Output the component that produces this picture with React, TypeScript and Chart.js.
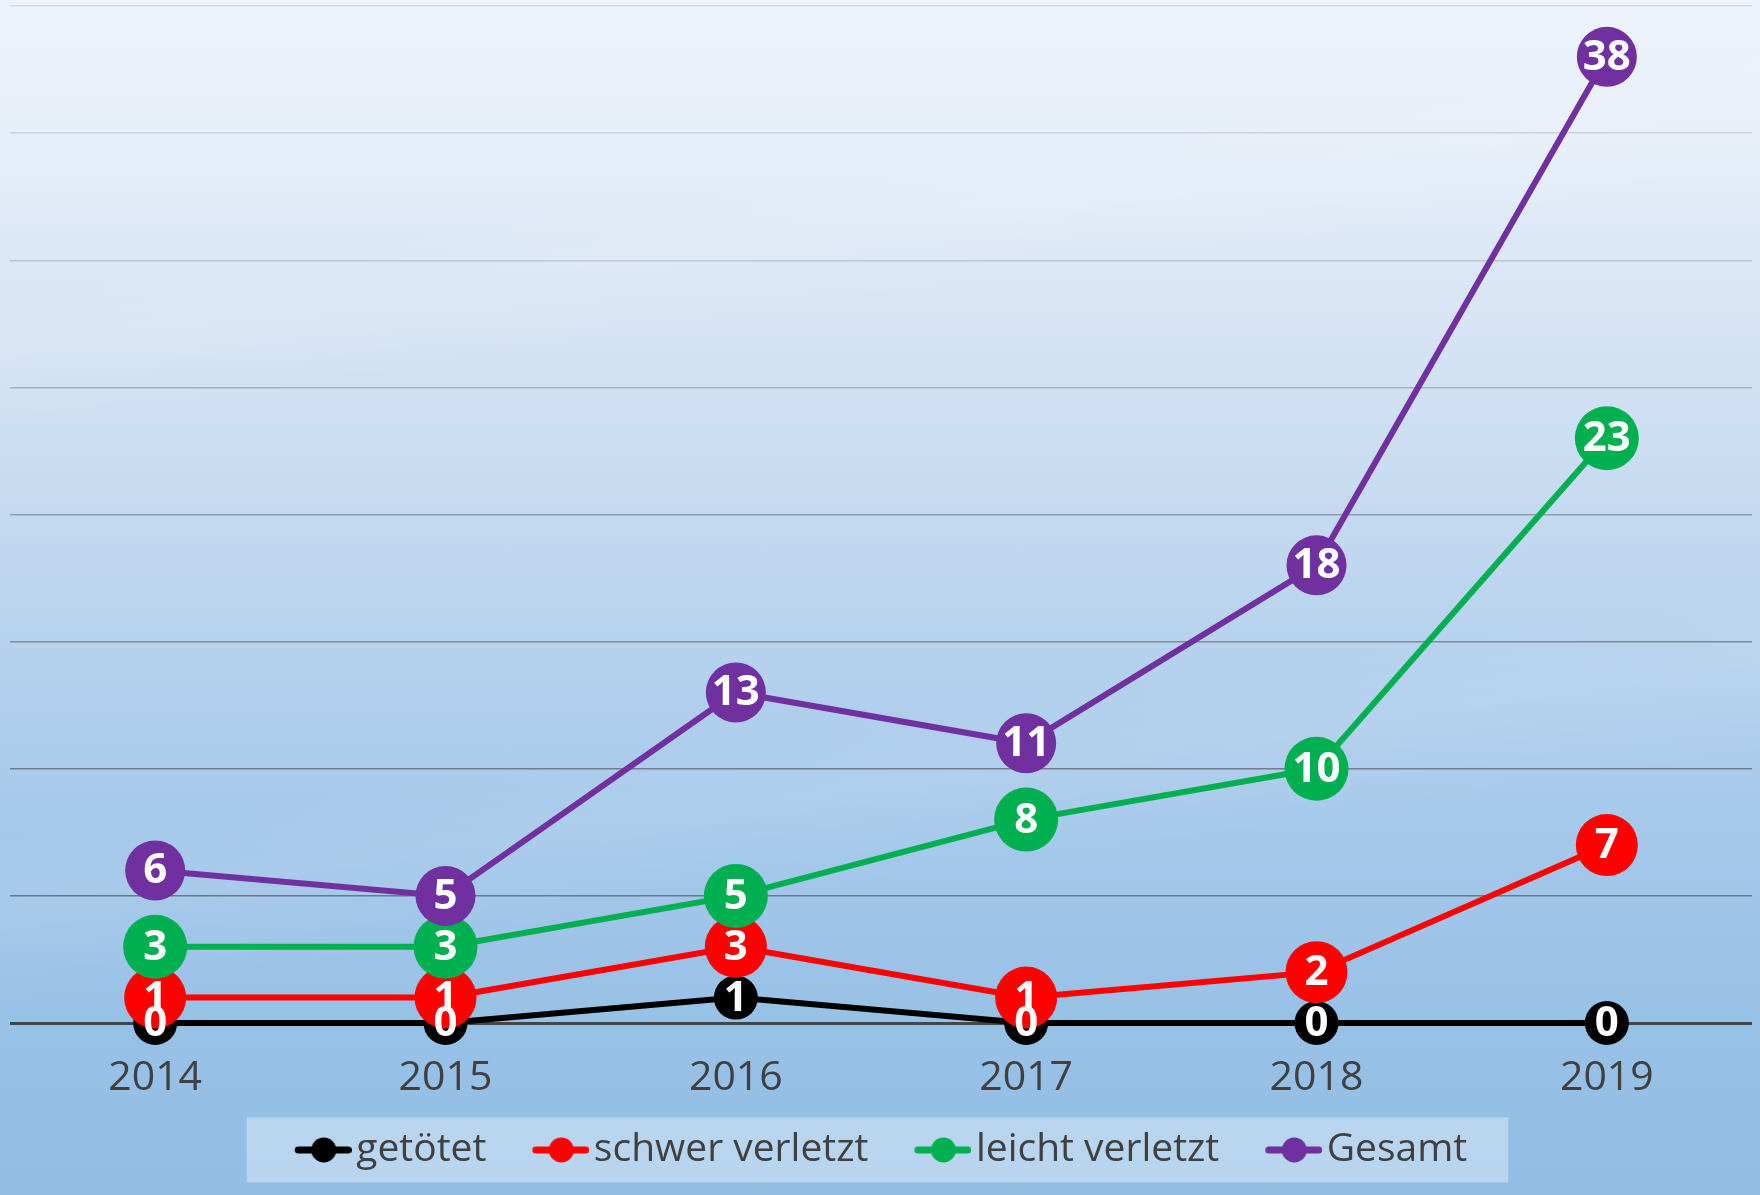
import React, { useEffect, useRef } from 'react';
import { Chart, registerables } from 'chart.js';

Chart.register(...registerables);

// ---- data ----
const years = ['2014', '2015', '2016', '2017', '2018', '2019'];
const getoetet = [0, 0, 1, 0, 0, 0];
const schwerVerletzt = [1, 1, 3, 1, 2, 7];
const leichtVerletzt = [3, 3, 5, 8, 10, 23];
const gesamt = [6, 5, 13, 11, 18, 38];
const seriesNames = ['getötet', 'schwer verletzt', 'leicht verletzt', 'Gesamt'];
const seriesColors = ['#000000', '#ff0000', '#00b050', '#7030a0'];
const pointRadii = [22, 31, 32, 30];
const yMin = 0;
const yMax = 40;
const yStep = 5;

const FONT = '"Open Sans", "Noto Sans", sans-serif';
const LEGEND_FONT = 39;

const gridColors: Record<number, string> = {
  40: '#d4d9e2',
  35: '#cbd2dc',
  30: '#bcc5d2',
  25: '#a4b0c0',
  20: '#8f9cae',
  15: '#7e8b9d',
  10: '#717e90',
  5: '#6b7888',
  0: '#454545',
};

function makeSymbol(color: string): HTMLCanvasElement {
  const c = document.createElement('canvas');
  c.width = 72;
  c.height = 30;
  const g = c.getContext('2d')!;
  g.strokeStyle = color;
  g.lineWidth = 7;
  g.lineCap = 'round';
  g.beginPath();
  g.moveTo(15 + 3.5, 15);
  g.lineTo(72 - 3.5, 15);
  g.stroke();
  g.fillStyle = color;
  g.beginPath();
  g.arc(15 + 29, 15, 12.5, 0, Math.PI * 2);
  g.fill();
  return c;
}

const LEGEND_CENTER_Y = 1150;

const legendPlace = {
  id: 'legendPlace',
  afterLayout(chart: any) {
    const lg = chart.legend;
    if (!lg) return;
    const P = lg.options.labels.padding;
    const h = lg.height;
    lg.top = LEGEND_CENTER_Y - P - LEGEND_FONT / 2;
    lg.bottom = lg.top + h;
  },
};

const legendBg = {
  id: 'legendBg',
  beforeDraw(chart: any) {
    const lg = chart.legend;
    if (!lg || !lg.lineWidths) return;
    const P = lg.options.labels.padding;
    const lw = lg.lineWidths[0];
    const start = (lg.left + P + lg.right - lw) / 2;
    const end = start + lw - P;
    const cy = lg.top + P + LEGEND_FONT / 2;
    const ctx = chart.ctx;
    ctx.save();
    ctx.fillStyle = 'rgba(255,255,255,0.35)';
    ctx.fillRect(start - 48, cy - 32.5, end - start + 48 + 41, 65);
    ctx.restore();
  },
};

const pointLabels = {
  id: 'pointLabels',
  afterDatasetsDraw(chart: any) {
    const ctx = chart.ctx;
    ctx.save();
    ctx.font = `bold 42px ${FONT}`;
    ctx.fillStyle = '#ffffff';
    ctx.textAlign = 'center';
    ctx.textBaseline = 'middle';
    chart.data.datasets.forEach((ds: any, i: number) => {
      const meta = chart.getDatasetMeta(i);
      meta.data.forEach((el: any, j: number) => {
        ctx.fillText(String(ds.data[j]), el.x, el.y + 1);
      });
    });
    ctx.restore();
  },
};

export default function App() {
  const ref = useRef<HTMLCanvasElement>(null);

  useEffect(() => {
    if (!ref.current) return;
    Chart.defaults.font.family = FONT;
    const allData = [getoetet, schwerVerletzt, leichtVerletzt, gesamt];
    const symbols = seriesColors.map(makeSymbol);
    const chart = new Chart(ref.current, {
      type: 'line',
      data: {
        labels: years,
        datasets: allData.map((d, i) => ({
          label: seriesNames[i],
          data: d,
          borderColor: seriesColors[i],
          backgroundColor: seriesColors[i],
          pointBackgroundColor: seriesColors[i],
          pointBorderWidth: 0,
          pointRadius: pointRadii[i],
          pointHoverRadius: pointRadii[i],
          borderWidth: 6,
          tension: 0,
          fill: false,
          clip: false as any,
          order: 4 - i,
        })),
      },
      options: {
        animation: false,
        responsive: false,
        devicePixelRatio: 1,
        events: [],
        layout: { autoPadding: false, padding: { left: 10, right: 8, top: 6, bottom: 0 } },
        scales: {
          x: {
            offset: true,
            grid: { display: false, drawTicks: false },
            border: { display: false },
            ticks: {
              color: '#404040',
              font: { size: 41, family: FONT },
              padding: 31,
            },
            afterFit(scale: any) {
              scale.height = 77;
            },
          },
          y: {
            min: yMin,
            max: yMax,
            ticks: { display: false, stepSize: yStep },
            border: { display: false },
            grid: {
              drawTicks: false,
              color: (ctx: any) => gridColors[ctx.tick?.value] ?? '#8f9cae',
              lineWidth: (ctx: any) => (ctx.tick?.value === 0 ? 3 : 1.5),
            },
          },
        },
        plugins: {
          tooltip: { enabled: false },
          legend: {
            position: 'bottom',
            labels: {
              usePointStyle: true,
              pointStyleWidth: 42,
              padding: 46,
              color: '#404040',
              font: { size: LEGEND_FONT, family: FONT },
              generateLabels: (ch: any) =>
                ch.data.datasets.map((ds: any, i: number) => ({
                  text: ds.label,
                  fillStyle: seriesColors[i],
                  strokeStyle: seriesColors[i],
                  lineWidth: 0,
                  pointStyle: symbols[i],
                  hidden: false,
                  datasetIndex: i,
                  fontColor: '#404040',
                })),
            },
          },
        },
      },
      plugins: [legendPlace, legendBg, pointLabels],
    } as any);
    (document as any).fonts?.ready?.then(() => chart.update());
    return () => chart.destroy();
  }, []);

  return (
    <div
      style={{
        position: 'fixed',
        left: 0,
        top: 0,
        width: 1760,
        height: 1195,
        background:
          'linear-gradient(172deg, rgba(255,255,255,0) 0%, rgba(255,255,255,0) 20%, rgba(255,255,255,0.10) 24%, rgba(255,255,255,0) 30%, rgba(255,255,255,0) 58%, rgba(255,255,255,0.08) 63%, rgba(255,255,255,0) 70%), linear-gradient(180deg, #eef3fb 0%, #e6eef9 12%, #d8e5f5 25%, #c8dcf1 40%, #b5d1ed 55%, #a5c8ea 70%, #98c1e6 85%, #92bee5 100%)',
      }}
    >
      <canvas ref={ref} width={1760} height={1195} style={{ display: 'block' }} />
    </div>
  );
}
